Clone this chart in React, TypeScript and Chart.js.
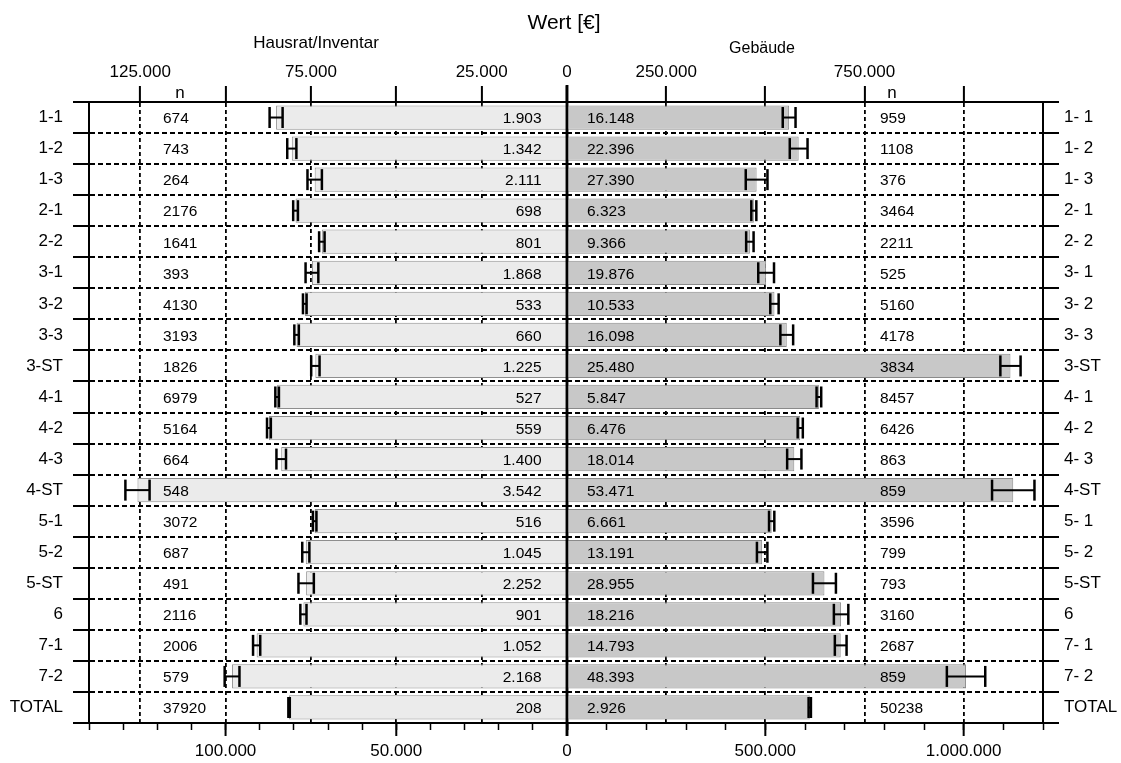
import React, { useEffect, useRef } from 'react';
import { Chart, registerables } from 'chart.js';

Chart.register(...registerables);

// ---------- data ----------
const rowLabelsLeft = ['1-1', '1-2', '1-3', '2-1', '2-2', '3-1', '3-2', '3-3', '3-ST', '4-1', '4-2', '4-3', '4-ST', '5-1', '5-2', '5-ST', '6', '7-1', '7-2', 'TOTAL'];
const rowLabelsRight = ['1- 1', '1- 2', '1- 3', '2- 1', '2- 2', '3- 1', '3- 2', '3- 3', '3-ST', '4- 1', '4- 2', '4- 3', '4-ST', '5- 1', '5- 2', '5-ST', '6', '7- 1', '7- 2', 'TOTAL'];

const hausratMean = [85200, 80600, 73900, 79500, 71800, 74700, 76800, 79200, 73700, 84900, 87300, 83700, 125800, 73900, 76500, 76400, 77200, 90900, 98100, 81400];
const hausratSE = [1903, 1342, 2111, 698, 801, 1868, 533, 660, 1225, 527, 559, 1400, 3542, 516, 1045, 2252, 901, 1052, 2168, 208];
const hausratN = [674, 743, 264, 2176, 1641, 393, 4130, 3193, 1826, 6979, 5164, 664, 548, 3072, 687, 491, 2116, 2006, 579, 37920];

const gebaeudeMean = [560000, 584000, 478000, 471000, 461000, 502000, 523000, 554000, 1118000, 635000, 588000, 573000, 1125000, 516000, 492000, 649000, 691000, 690000, 1006000, 612000];
const gebaeudeSE = [16148, 22396, 27390, 6323, 9366, 19876, 10533, 16098, 25480, 5847, 6476, 18014, 53471, 6661, 13191, 28955, 18216, 14793, 48393, 2926];
const gebaeudeN = [959, 1108, 376, 3464, 2211, 525, 5160, 4178, 3834, 8457, 6426, 863, 859, 3596, 799, 793, 3160, 2687, 859, 50238];

const hausratMax = 140000;
const gebaeudeMax = 1200000;
const hausratTopStep = 25000;
const hausratBottomStep = 10000;
const gebaeudeTopStep = 250000;
const gebaeudeBottomStep = 100000;
const hausratTopTickLabels = [125000, 75000, 25000, 0];
const hausratBottomTickLabels = [100000, 50000, 0];
const gebaeudeTopTickLabels = [250000, 750000];
const gebaeudeBottomTickLabels = [500000, 1000000];
const hausratMajorTicks = [0, 50000, 100000];
const gebaeudeMajorTicks = [0, 500000, 1000000];

// ---------- style / layout ----------
const FONT = '"Liberation Sans", Arial, Helvetica, sans-serif';
const W = 1121;
const H = 763;
const LEFT_CANVAS_X = 0;
const LEFT_CANVAS_W = 640;
const RIGHT_CANVAS_X = 530;
const RIGHT_CANVAS_W = 591;
const PLOT_LEFT = 89;
const CENTER_X = 567;
const PLOT_RIGHT = 1043;
const PLOT_TOP = 102;
const PLOT_BOTTOM = 723;

const fmt = (v: number) => String(Math.round(v)).replace(/\B(?=(\d{3})+(?!\d))/g, '.');

function stepTicks(step: number, max: number) {
  const out: { value: number }[] = [];
  for (let v = 0; v <= max + 1e-6; v += step) out.push({ value: v });
  return out;
}

function line(ctx: CanvasRenderingContext2D, x1: number, y1: number, x2: number, y2: number) {
  ctx.beginPath();
  ctx.moveTo(x1, y1);
  ctx.lineTo(x2, y2);
  ctx.stroke();
}

function drawErrorBars(chart: any, means: number[], ses: number[]) {
  const { ctx } = chart;
  const x = chart.scales.x;
  const y = chart.scales.y;
  ctx.save();
  ctx.strokeStyle = '#000';
  ctx.setLineDash([]);
  means.forEach((m, i) => {
    const yc = y.getPixelForValue(i);
    const x1 = x.getPixelForValue(m - ses[i]);
    const x2 = x.getPixelForValue(m + ses[i]);
    ctx.lineWidth = 2;
    line(ctx, x1, yc, x2, yc);
    ctx.lineWidth = 2.5;
    line(ctx, x1, yc - 10.5, x1, yc + 10.5);
    line(ctx, x2, yc - 10.5, x2, yc + 10.5);
  });
  ctx.restore();
}

function drawMajorTicksAndCenter(chart: any, majors: number[]) {
  const { ctx, chartArea: ca } = chart;
  const x = chart.scales.x;
  ctx.save();
  ctx.strokeStyle = '#000';
  ctx.setLineDash([]);
  ctx.lineWidth = 2;
  majors.forEach((v) => {
    const px = x.getPixelForValue(v);
    line(ctx, px, ca.bottom, px, ca.bottom + 13);
  });
  const cx = x.getPixelForValue(0);
  ctx.lineWidth = 2.5;
  line(ctx, cx, PLOT_TOP - 17, cx, ca.bottom + 13);
  ctx.restore();
}

const leftOverlay = {
  id: 'leftOverlay',
  afterDatasetsDraw(chart: any) {
    drawErrorBars(chart, hausratMean, hausratSE);
  },
  afterDraw(chart: any) {
    const { ctx, chartArea: ca } = chart;
    const y = chart.scales.y;
    const ox = LEFT_CANVAS_X;
    ctx.save();
    ctx.fillStyle = '#000';
    ctx.textBaseline = 'middle';
    ctx.textAlign = 'center';
    ctx.font = `21px ${FONT}`;
    ctx.fillText('Wert [€]', 564 - ox, 23);
    ctx.font = `17px ${FONT}`;
    ctx.fillText('Hausrat/Inventar', 316 - ox, 43);
    ctx.fillText('n', 180 - ox, 93);
    ctx.font = `15.5px ${FONT}`;
    hausratN.forEach((n, i) => {
      const yc = y.getPixelForValue(i) + 1.5;
      ctx.textAlign = 'left';
      ctx.fillText(String(n), ca.left + 74, yc);
      ctx.textAlign = 'right';
      ctx.fillText(fmt(hausratSE[i]), ca.right - 25.5, yc);
    });
    ctx.restore();
    drawMajorTicksAndCenter(chart, hausratMajorTicks);
  },
};

const rightOverlay = {
  id: 'rightOverlay',
  afterDatasetsDraw(chart: any) {
    drawErrorBars(chart, gebaeudeMean, gebaeudeSE);
  },
  afterDraw(chart: any) {
    const { ctx, chartArea: ca } = chart;
    const y = chart.scales.y;
    const ox = RIGHT_CANVAS_X;
    ctx.save();
    ctx.fillStyle = '#000';
    ctx.textBaseline = 'middle';
    ctx.textAlign = 'center';
    ctx.font = `16px ${FONT}`;
    ctx.fillText('Gebäude', 762 - ox, 49);
    ctx.font = `17px ${FONT}`;
    ctx.fillText('n', 892 - ox, 93);
    ctx.font = `15.5px ${FONT}`;
    gebaeudeN.forEach((n, i) => {
      const yc = y.getPixelForValue(i) + 1.5;
      ctx.textAlign = 'left';
      ctx.fillText(String(n), ca.left + 313, yc);
      ctx.fillText(fmt(gebaeudeSE[i]), ca.left + 20, yc);
    });
    ctx.restore();
    drawMajorTicksAndCenter(chart, gebaeudeMajorTicks);
  },
};

const tickFont = { family: FONT, size: 17 };
const solidTick = [1, 0];

function makeConfig(side: 'left' | 'right'): any {
  const isLeft = side === 'left';
  const max = isLeft ? hausratMax : gebaeudeMax;
  const topLabels = isLeft ? hausratTopTickLabels : gebaeudeTopTickLabels;
  const bottomLabels = isLeft ? hausratBottomTickLabels : gebaeudeBottomTickLabels;
  const topStep = isLeft ? hausratTopStep : gebaeudeTopStep;
  const bottomStep = isLeft ? hausratBottomStep : gebaeudeBottomStep;
  const canvasX = isLeft ? LEFT_CANVAS_X : RIGHT_CANVAS_X;
  const canvasW = isLeft ? LEFT_CANVAS_W : RIGHT_CANVAS_W;
  return {
    type: 'bar',
    data: {
      labels: isLeft ? rowLabelsLeft : rowLabelsRight,
      datasets: [
        {
          data: isLeft ? hausratMean : gebaeudeMean,
          backgroundColor: isLeft ? '#ebebeb' : '#c8c8c8',
          borderColor: isLeft ? '#8e8e8e' : '#8a8a8a',
          borderWidth: 1,
          barPercentage: 0.78,
          categoryPercentage: 1,
          xAxisID: 'x',
          yAxisID: 'y',
        },
      ],
    },
    options: {
      indexAxis: 'y',
      responsive: false,
      maintainAspectRatio: false,
      animation: false,
      devicePixelRatio: 1,
      layout: {
        padding: isLeft
          ? { left: 0, right: canvasX + canvasW - CENTER_X, top: 0, bottom: 0 }
          : { left: CENTER_X - canvasX, right: 0, top: 0, bottom: 0 },
      },
      plugins: { legend: { display: false }, tooltip: { enabled: false }, title: { display: false } },
      scales: {
        x: {
          type: 'linear',
          position: 'bottom',
          min: 0,
          max,
          bounds: 'data',
          reverse: isLeft,
          afterBuildTicks: (s: any) => {
            s.ticks = stepTicks(bottomStep, max);
          },
          ticks: {
            autoSkip: false,
            maxRotation: 0,
            padding: 11,
            font: tickFont,
            color: '#000',
            callback: (v: number) => (bottomLabels.includes(v) ? fmt(v) : ''),
          },
          grid: {
            drawOnChartArea: false,
            drawTicks: true,
            tickLength: 7,
            tickWidth: 1.5,
            tickColor: '#000',
            tickBorderDash: solidTick,
          },
          border: { display: true, color: '#000', width: 2 },
          afterFit: (s: any) => {
            s.height = H - PLOT_BOTTOM;
          },
        },
        x2: {
          type: 'linear',
          position: 'top',
          min: 0,
          max,
          bounds: 'data',
          reverse: isLeft,
          afterBuildTicks: (s: any) => {
            s.ticks = stepTicks(topStep, max);
          },
          ticks: {
            autoSkip: false,
            maxRotation: 0,
            padding: 3,
            font: tickFont,
            color: '#000',
            callback: (v: number) => (topLabels.includes(v) ? fmt(v) : ''),
          },
          grid: {
            drawOnChartArea: true,
            color: '#000',
            lineWidth: 1.8,
            drawTicks: true,
            tickLength: 16,
            tickWidth: 2,
            tickColor: '#000',
            tickBorderDash: solidTick,
          },
          border: { display: true, color: '#000', width: 2, dash: [4, 3] },
          afterFit: (s: any) => {
            s.height = PLOT_TOP;
          },
        },
        y: {
          type: 'category',
          position: isLeft ? 'left' : 'right',
          offset: true,
          ticks: {
            autoSkip: false,
            padding: isLeft ? 10 : 5,
            font: tickFont,
            color: '#000',
          },
          grid: {
            offset: true,
            color: '#000',
            lineWidth: 2,
            drawTicks: true,
            tickLength: 16,
            tickWidth: 2,
            tickColor: '#000',
            tickBorderDash: solidTick,
          },
          border: { display: true, color: '#000', width: 2, dash: [5, 3] },
          afterFit: (s: any) => {
            s.width = isLeft ? PLOT_LEFT - canvasX : canvasX + canvasW - PLOT_RIGHT;
          },
        },
      },
    },
    plugins: [isLeft ? leftOverlay : rightOverlay],
  };
}

export default function App() {
  const leftRef = useRef<HTMLCanvasElement>(null);
  const rightRef = useRef<HTMLCanvasElement>(null);

  useEffect(() => {
    const left = new Chart(leftRef.current as HTMLCanvasElement, makeConfig('left'));
    const right = new Chart(rightRef.current as HTMLCanvasElement, makeConfig('right'));
    return () => {
      left.destroy();
      right.destroy();
    };
  }, []);

  return (
    <div style={{ position: 'absolute', left: 0, top: 0, width: W, height: H, background: '#fff', overflow: 'hidden' }}>
      <canvas
        ref={leftRef}
        width={LEFT_CANVAS_W}
        height={H}
        style={{ position: 'absolute', left: LEFT_CANVAS_X, top: 0, width: LEFT_CANVAS_W, height: H }}
      />
      <canvas
        ref={rightRef}
        width={RIGHT_CANVAS_W}
        height={H}
        style={{ position: 'absolute', left: RIGHT_CANVAS_X, top: 0, width: RIGHT_CANVAS_W, height: H }}
      />
    </div>
  );
}
